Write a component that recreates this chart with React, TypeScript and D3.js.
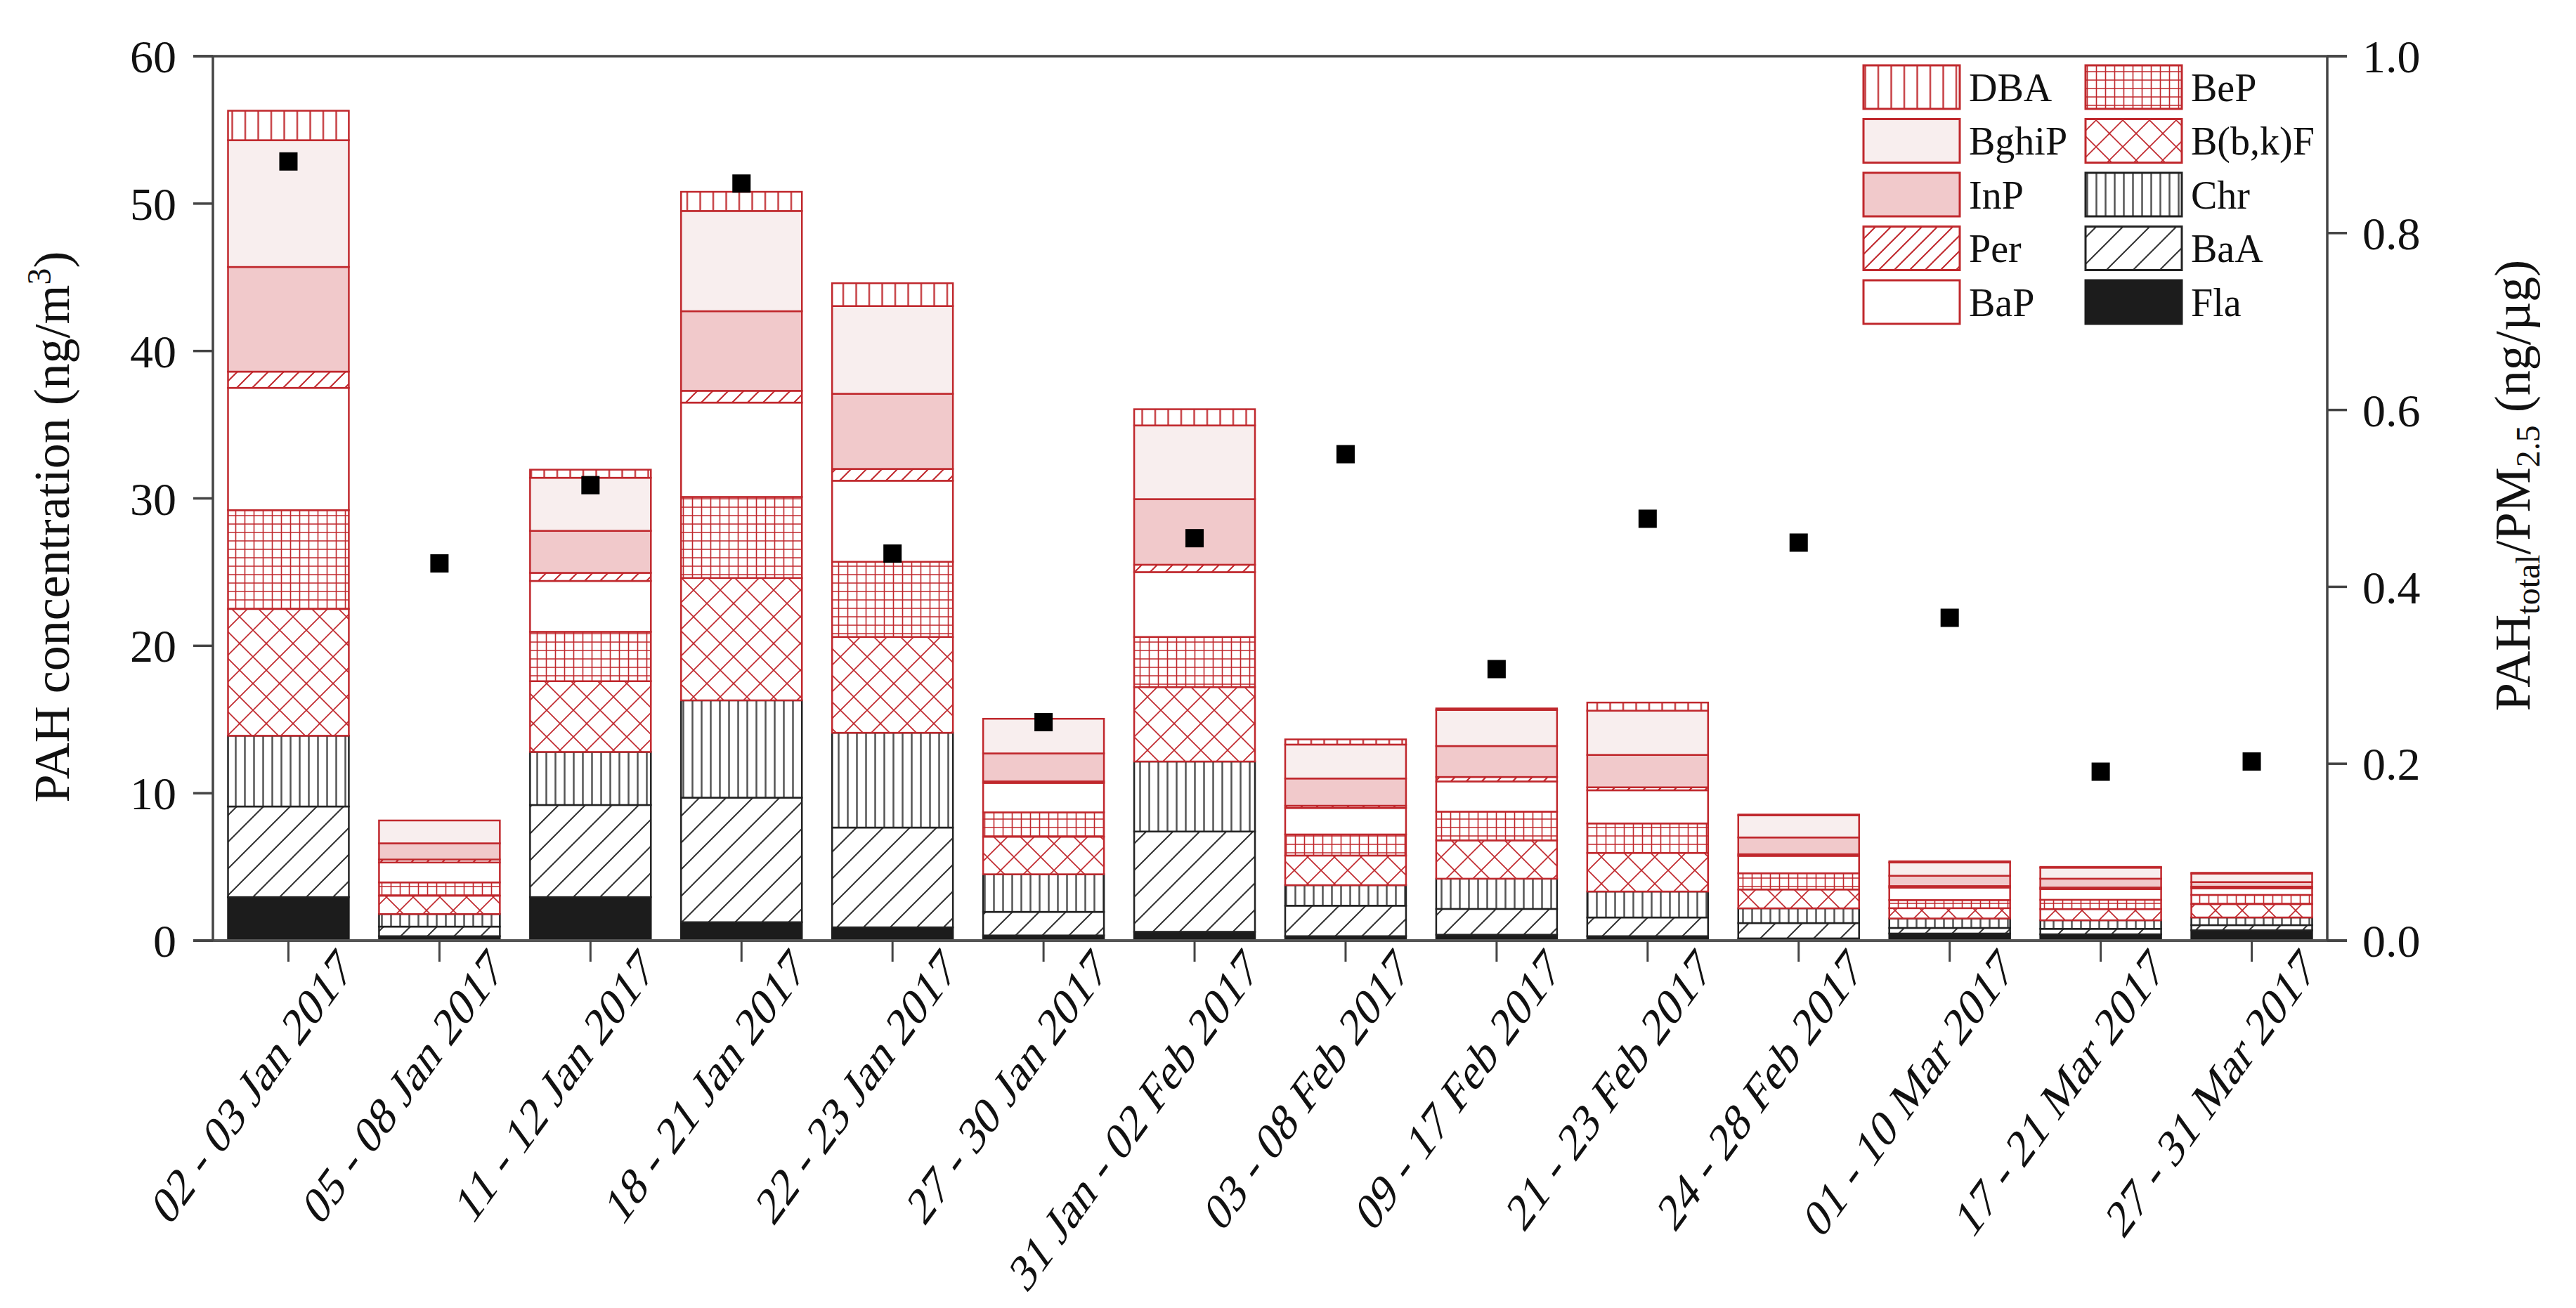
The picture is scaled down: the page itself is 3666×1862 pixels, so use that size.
import { useMemo } from 'react'
import * as d3 from 'd3'

const periods = [
  '02 - 03 Jan 2017', '05 - 08 Jan 2017', '11 - 12 Jan 2017', '18 - 21 Jan 2017',
  '22 - 23 Jan 2017', '27 - 30 Jan 2017', '31 Jan - 02 Feb 2017', '03 - 08 Feb 2017',
  '09 - 17 Feb 2017', '21 - 23 Feb 2017', '24 - 28 Feb 2017', '01 - 10 Mar 2017',
  '17 - 21 Mar 2017', '27 - 31 Mar 2017',
]

// PAH species concentrations (ng/m3), stacked bottom -> top
const Fla = [2.95, 0.3, 2.95, 1.25, 0.9, 0.35, 0.6, 0.3, 0.4, 0.3, 0.15, 0.48, 0.43, 0.7]
const BaA = [6.15, 0.65, 6.25, 8.45, 6.77, 1.6, 6.8, 2.07, 1.75, 1.27, 1.04, 0.38, 0.37, 0.35]
const Chr = [4.8, 0.85, 3.6, 6.6, 6.43, 2.55, 4.75, 1.39, 2.05, 1.76, 1.0, 0.64, 0.58, 0.52]
const BbkF = [8.6, 1.25, 4.8, 8.3, 6.5, 2.55, 5.05, 2.01, 2.6, 2.62, 1.28, 0.7, 0.76, 0.91]
const BeP = [6.7, 0.9, 3.35, 5.5, 5.1, 1.65, 3.4, 1.43, 1.95, 2.0, 1.1, 0.55, 0.63, 0.62]
const BaP = [8.3, 1.35, 3.45, 6.4, 5.5, 2.0, 4.4, 1.8, 2.05, 2.25, 1.18, 0.85, 0.73, 0.45]
const Per = [1.1, 0.2, 0.55, 0.8, 0.8, 0.1, 0.5, 0.15, 0.3, 0.2, 0.11, 0.1, 0.1, 0.11]
const InP = [7.1, 1.1, 2.85, 5.4, 5.1, 1.9, 4.45, 1.85, 2.1, 2.2, 1.14, 0.7, 0.6, 0.31]
const BghiP = [8.6, 1.55, 3.6, 6.8, 5.95, 2.35, 5.0, 2.3, 2.45, 3.0, 1.5, 0.9, 0.75, 0.58]
const DBA = [2.0, 0, 0.55, 1.3, 1.55, 0, 1.1, 0.35, 0.1, 0.55, 0.05, 0.08, 0.05, 0.05]

// PAH_total / PM2.5 (ng/ug)
const ratio = [0.881, 0.4265, 0.515, 0.856, 0.4376, 0.247, 0.455, 0.55, 0.307, 0.477, 0.45, 0.365, 0.191, 0.2025]

const yTicks = [0, 10, 20, 30, 40, 50, 60]
const y2Ticks = [0, 0.2, 0.4, 0.6, 0.8, 1.0]

const speciesKeys = ['Fla', 'BaA', 'Chr', 'BbkF', 'BeP', 'BaP', 'Per', 'InP', 'BghiP', 'DBA']
const speciesValues: Record<string, number[]> = { Fla, BaA, Chr, BbkF, BeP, BaP, Per, InP, BghiP, DBA }
const speciesLabel: Record<string, string> = {
  Fla: 'Fla', BaA: 'BaA', Chr: 'Chr', BbkF: 'B(b,k)F', BeP: 'BeP',
  BaP: 'BaP', Per: 'Per', InP: 'InP', BghiP: 'BghiP', DBA: 'DBA',
}
const legendCol1 = ['DBA', 'BghiP', 'InP', 'Per', 'BaP']
const legendCol2 = ['BeP', 'BbkF', 'Chr', 'BaA', 'Fla']

const RED = '#c0282d'
const DARK = '#222'

const style: Record<string, { fill: string; stroke: string }> = {
  Fla: { fill: '#1c1c1c', stroke: '#1c1c1c' },
  BaA: { fill: 'url(#p-baa)', stroke: DARK },
  Chr: { fill: 'url(#p-chr)', stroke: DARK },
  BbkF: { fill: 'url(#p-bbkf)', stroke: RED },
  BeP: { fill: 'url(#p-bep)', stroke: RED },
  BaP: { fill: '#ffffff', stroke: RED },
  Per: { fill: 'url(#p-per)', stroke: RED },
  InP: { fill: '#f1c9cb', stroke: RED },
  BghiP: { fill: '#f8eeee', stroke: RED },
  DBA: { fill: 'url(#p-dba)', stroke: RED },
}

const W = 3666
const H = 1862
const margin = { top: 80, left: 303, right: 354, bottom: 523 }
const FONT = '"Liberation Serif", "Times New Roman", serif'

export default function App() {
  const innerW = W - margin.left - margin.right
  const innerH = H - margin.top - margin.bottom

  const x = d3.scaleBand<string>().domain(periods).range([0, innerW]).paddingInner(0.2).paddingOuter(0.1)
  const y = d3.scaleLinear().domain([0, 60]).range([innerH, 0])
  const y2 = d3.scaleLinear().domain([0, 1]).range([innerH, 0])

  const stacked = useMemo(() => {
    const rows = periods.map((p, i) => {
      const r: Record<string, number | string> = { period: p }
      speciesKeys.forEach(k => { r[k] = speciesValues[k][i] })
      return r
    })
    return d3.stack<Record<string, number | string>>().keys(speciesKeys)(rows as any)
  }, [])

  const bw = x.bandwidth()
  const axisColor = '#444'

  const legendItem = (k: string, lx: number, row: number) => {
    const cy = 124 + row * 76.5
    const s = style[k]
    return (
      <g key={k}>
        <rect x={lx} y={cy - 31} width={137} height={62} fill={s.fill} stroke={s.stroke} strokeWidth={3} />
        <text x={lx + 150} y={cy} dy="0.35em" fontSize={56} fontFamily={FONT} fill="#111">{speciesLabel[k]}</text>
      </g>
    )
  }

  return (
    <svg width={W} height={H} style={{ position: 'absolute', left: 0, top: 0, background: '#fff' }}>
      <defs>
        <pattern id="p-baa" patternUnits="userSpaceOnUse" width={38} height={38}>
          <rect width={38} height={38} fill="#fff" />
          <path d="M0,38 L38,0 M-10,10 L10,-10 M28,48 L48,28" stroke="#333" strokeWidth={2} />
        </pattern>
        <pattern id="p-per" patternUnits="userSpaceOnUse" width={22} height={22}>
          <rect width={22} height={22} fill="#fff" />
          <path d="M0,22 L22,0 M-6,6 L6,-6 M16,28 L28,16" stroke={RED} strokeWidth={2} />
        </pattern>
        <pattern id="p-chr" patternUnits="userSpaceOnUse" width={13} height={13}>
          <rect width={13} height={13} fill="#fff" />
          <path d="M6.5,0 L6.5,13" stroke="#555" strokeWidth={2.5} />
        </pattern>
        <pattern id="p-dba" patternUnits="userSpaceOnUse" width={18.5} height={18.5}>
          <rect width={18.5} height={18.5} fill="#fff" />
          <path d="M9,0 L9,18.5" stroke={RED} strokeWidth={2.2} />
        </pattern>
        <pattern id="p-bep" patternUnits="userSpaceOnUse" width={13} height={12}>
          <rect width={13} height={12} fill="#fff" />
          <path d="M6.5,0 L6.5,12 M0,6 L13,6" stroke={RED} strokeWidth={1.6} />
        </pattern>
        <pattern id="p-bbkf" patternUnits="userSpaceOnUse" width={38} height={38}>
          <rect width={38} height={38} fill="#fff" />
          <path d="M0,0 L38,38 M38,0 L0,38" stroke={RED} strokeWidth={1.6} />
        </pattern>
      </defs>

      <g transform={`translate(${margin.left},${margin.top})`}>
        {/* stacked bars */}
        {stacked.map(series => (
          <g key={series.key}>
            {series.map((d, i) => {
              const h = y(d[0]) - y(d[1])
              if (h <= 0) return null
              return (
                <rect
                  key={i}
                  x={x(periods[i])}
                  y={y(d[1])}
                  width={bw}
                  height={h}
                  fill={style[series.key].fill}
                  stroke={style[series.key].stroke}
                  strokeWidth={2.5}
                />
              )
            })}
          </g>
        ))}

        {/* ratio markers */}
        {ratio.map((r, i) => (
          <rect key={i} x={(x(periods[i]) || 0) + bw / 2 - 13} y={y2(r) - 13} width={26} height={26} fill="#000" />
        ))}

        {/* frame */}
        <line x1={-28} x2={innerW + 28} y1={0} y2={0} stroke={axisColor} strokeWidth={3.5} />
        <line x1={-28} x2={innerW + 28} y1={innerH} y2={innerH} stroke="#555" strokeWidth={4} />
        <line x1={0} x2={0} y1={0} y2={innerH} stroke={axisColor} strokeWidth={3.5} />
        <line x1={innerW} x2={innerW} y1={0} y2={innerH} stroke={axisColor} strokeWidth={3.5} />

        {/* left axis ticks */}
        {yTicks.map(t => (
          <g key={t} transform={`translate(0,${y(t)})`}>
            <line x1={-28} x2={0} stroke={axisColor} strokeWidth={3.5} />
            <text x={-52} dy="0.35em" textAnchor="end" fontSize={66} fontFamily={FONT} fill="#111">{t}</text>
          </g>
        ))}

        {/* right axis ticks */}
        {y2Ticks.map(t => (
          <g key={t} transform={`translate(${innerW},${y2(t)})`}>
            <line x1={0} x2={28} stroke={axisColor} strokeWidth={3.5} />
            <text x={50} dy="0.35em" textAnchor="start" fontSize={66} fontFamily={FONT} fill="#111">{t.toFixed(1)}</text>
          </g>
        ))}

        {/* x ticks and labels (rotated, then stretched vertically like the original) */}
        {periods.map(p => {
          const cx = (x(p) || 0) + bw / 2
          return (
            <g key={p}>
              <line x1={cx} x2={cx} y1={innerH} y2={innerH + 30} stroke={axisColor} strokeWidth={3} />
              <text
                transform={`translate(${cx + 94},${innerH + 44}) scale(1,1.38) rotate(-45)`}
                textAnchor="end"
                fontSize={56}
                fontFamily={FONT}
                fill="#111"
              >
                {p}
              </text>
            </g>
          )
        })}
      </g>

      {/* axis titles */}
      <text transform="translate(98,750) rotate(-90)" textAnchor="middle" fontSize={72} fontFamily={FONT} fill="#111">
        PAH concentration (ng/m<tspan dy={-26} fontSize={48}>3</tspan><tspan dy={26}>)</tspan>
      </text>
      <text transform="translate(3600,691) rotate(-90)" textAnchor="middle" fontSize={72} fontFamily={FONT} fill="#111">
        PAH<tspan dy={14} fontSize={48}>total</tspan><tspan dy={-14}>/PM</tspan><tspan dy={14} fontSize={48}>2.5</tspan><tspan dy={-14}> (ng/µg)</tspan>
      </text>

      {/* legend */}
      {legendCol1.map((k, i) => legendItem(k, 2652, i))}
      {legendCol2.map((k, i) => legendItem(k, 2968, i))}
    </svg>
  )
}
